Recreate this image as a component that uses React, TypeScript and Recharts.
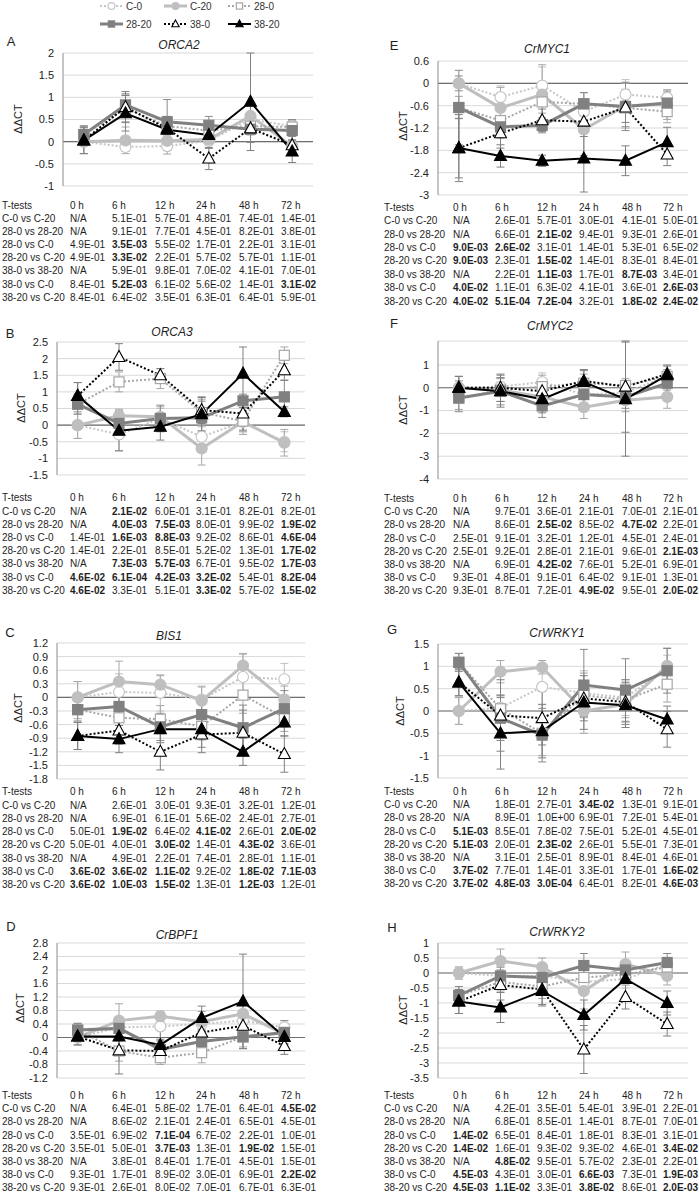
import React from "react";
import {
  LineChart,
  Line,
  XAxis,
  YAxis,
  CartesianGrid,
  ReferenceLine,
  ErrorBar,
} from "recharts";

const FONT = '"Liberation Sans", Arial, sans-serif';

const times = ["0 h", "6 h", "12 h", "24 h", "48 h", "72 h"];
const seriesNames = ["C-0", "C-20", "28-0", "28-20", "38-0", "38-20"];
const testNames = [
  "C-0 vs C-20",
  "28-0 vs 28-20",
  "28-0 vs C-0",
  "28-20 vs C-20",
  "38-0 vs 38-20",
  "38-0 vs C-0",
  "38-20 vs C-20",
];

// values: one row per series (C-0, C-20, 28-0, 28-20, 38-0, 38-20), one column per time
const orca2Values = [
  [0, -0.12, -0.1, 0.02, 0.5, 0.35],
  [0, 0.03, 0.02, 0.05, 0.58, -0.1],
  [0.16, 0.75, 0.35, 0.25, 0.35, 0.33],
  [0.16, 0.83, 0.45, 0.37, 0.28, 0.25],
  [0.03, 0.78, 0.3, -0.38, 0.3, -0.08],
  [0.03, 0.64, 0.27, 0.15, 0.9, -0.22],
];
const orca2Errors = [
  [0.05, 0.1, 0.1, 0.1, 0.15, 0.1],
  [0.05, 0.3, 0.3, 0.1, 0.25, 0.15],
  [0.15, 0.3, 0.2, 0.15, 0.2, 0.15],
  [0.2, 0.25, 0.5, 0.2, 0.3, 0.25],
  [0.3, 0.35, 0.2, 0.25, 0.3, 0.2],
  [0.3, 0.4, 0.3, 0.3, 1.1, 0.25],
];
const orca2Ticks = [-1, -0.5, 0, 0.5, 1, 1.5, 2];
const orca2P = [
  ["N/A", "5.1E-01", "5.7E-01", "4.8E-01", "7.4E-01", "1.4E-01"],
  ["N/A", "9.1E-01", "7.7E-01", "4.5E-01", "8.2E-01", "3.8E-01"],
  ["4.9E-01", "3.5E-03", "5.5E-02", "1.7E-01", "2.2E-01", "3.1E-01"],
  ["4.9E-01", "3.3E-02", "2.2E-01", "5.7E-02", "5.7E-01", "1.1E-01"],
  ["N/A", "5.9E-01", "9.8E-01", "7.0E-02", "4.1E-01", "7.0E-01"],
  ["8.4E-01", "5.2E-03", "6.1E-02", "5.6E-02", "1.4E-01", "3.1E-02"],
  ["8.4E-01", "6.4E-02", "3.5E-01", "6.3E-01", "6.4E-01", "5.9E-01"],
];

const orca3Values = [
  [0, -0.28, 0.2, -0.35, 0.1, -0.5],
  [0, 0.28, 0.25, -0.7, 0.1, -0.53],
  [0.63, 1.3, 1.4, 0.38, 0.12, 2.1],
  [0.63, 0.05, 0.2, 0.22, 0.73, 0.85],
  [0.88, 2.05, 1.5, 0.45, 0.35, 1.65],
  [0.88, -0.17, -0.05, 0.33, 1.55, 0.4],
];
const orca3Errors = [
  [0.4, 0.5, 0.3, 0.3, 0.3, 0.3],
  [0.4, 0.2, 0.3, 0.5, 0.3, 0.4],
  [0.3, 0.3, 0.3, 0.4, 0.4, 0.25],
  [0.3, 0.3, 0.4, 0.5, 0.2, 0.5],
  [0.4, 0.4, 0.2, 0.4, 0.5, 0.3],
  [0.4, 0.6, 0.4, 0.5, 0.8, 0.15],
];
const orca3Ticks = [-1.5, -1, -0.5, 0, 0.5, 1, 1.5, 2, 2.5];
const orca3P = [
  ["N/A", "2.1E-02", "6.0E-01", "3.1E-01", "8.2E-01", "8.2E-01"],
  ["N/A", "4.0E-03", "7.5E-03", "8.0E-01", "9.9E-02", "1.9E-02"],
  ["1.4E-01", "1.6E-03", "8.8E-03", "9.2E-02", "8.6E-01", "4.6E-04"],
  ["1.4E-01", "2.2E-01", "8.5E-01", "5.2E-02", "1.3E-01", "1.7E-02"],
  ["N/A", "7.3E-03", "5.7E-03", "6.7E-01", "9.5E-02", "1.7E-03"],
  ["4.6E-02", "6.1E-04", "4.2E-03", "3.2E-02", "5.4E-01", "8.2E-04"],
  ["4.6E-02", "3.3E-01", "5.1E-01", "3.3E-02", "5.7E-02", "1.5E-02"],
];

const bis1Values = [
  [0, 0.12, 0.1, -0.05, 0.45, 0.4],
  [0, 0.35, 0.28, -0.07, 0.7, -0.05],
  [-0.27, -0.45, -0.48, -0.64, 0.05, -0.45],
  [-0.27, -0.2, -0.65, -0.38, -0.67, -0.25],
  [-0.85, -0.73, -1.2, -0.82, -0.78, -1.25],
  [-0.85, -0.92, -0.7, -0.7, -1.2, -0.55],
];
const bis1Errors = [
  [0.35, 0.4, 0.4, 0.3, 0.5, 0.35],
  [0.35, 0.45, 0.2, 0.3, 0.27, 0.3],
  [0.2, 0.3, 0.3, 0.3, 0.4, 0.3],
  [0.25, 0.3, 0.3, 0.35, 0.5, 0.4],
  [0.3, 0.3, 0.4, 0.4, 0.5, 0.4],
  [0.3, 0.3, 0.3, 0.4, 0.3, 0.3],
];
const bis1Ticks = [-1.8, -1.5, -1.2, -0.9, -0.6, -0.3, 0, 0.3, 0.6, 0.9, 1.2];
const bis1P = [
  ["N/A", "2.6E-01", "3.0E-01", "9.3E-01", "3.2E-01", "1.2E-01"],
  ["N/A", "6.9E-01", "6.1E-01", "5.6E-02", "2.4E-01", "2.7E-01"],
  ["5.0E-01", "1.9E-02", "6.4E-02", "4.1E-02", "2.6E-01", "2.0E-02"],
  ["5.0E-01", "4.0E-01", "3.0E-02", "1.4E-01", "4.3E-02", "3.6E-01"],
  ["N/A", "4.9E-01", "2.2E-01", "7.4E-01", "2.8E-01", "1.1E-01"],
  ["3.6E-02", "3.6E-02", "1.1E-02", "9.2E-02", "1.8E-02", "7.1E-03"],
  ["3.6E-02", "1.0E-03", "1.5E-02", "1.3E-01", "1.2E-03", "1.2E-01"],
];

const bpf1Values = [
  [0, 0.3, 0.33, 0.4, 0.5, 0.3],
  [0, 0.5, 0.63, 0.47, 0.7, 0.1],
  [0.22, -0.4, -0.6, -0.45, 0.02, 0.12],
  [0.22, 0.27, -0.35, -0.12, 0.02, 0.15],
  [0.03, -0.38, -0.4, 0.15, 0.35, -0.25],
  [0.03, 0.03, -0.22, 0.58, 1.07, 0.02],
];
const bpf1Errors = [
  [0.1, 0.3, 0.4, 0.2, 0.3, 0.2],
  [0.1, 0.5, 0.15, 0.3, 0.4, 0.3],
  [0.2, 0.3, 0.2, 0.3, 0.3, 0.2],
  [0.2, 0.2, 0.3, 0.3, 0.35, 0.35],
  [0.25, 0.7, 0.3, 0.3, 0.3, 0.25],
  [0.25, 0.3, 0.5, 0.35, 1.4, 0.2],
];
const bpf1Ticks = [-1.2, -0.8, -0.4, 0, 0.4, 0.8, 1.2, 1.6, 2, 2.4, 2.8];
const bpf1P = [
  ["N/A", "6.4E-01", "5.8E-02", "1.7E-01", "6.4E-01", "4.5E-02"],
  ["N/A", "8.6E-02", "2.1E-01", "2.4E-01", "6.5E-01", "4.5E-01"],
  ["3.5E-01", "6.9E-02", "7.1E-04", "6.7E-02", "2.2E-01", "1.0E-01"],
  ["3.5E-01", "5.0E-01", "3.7E-03", "1.3E-01", "1.9E-02", "1.5E-01"],
  ["N/A", "3.8E-01", "8.4E-01", "1.7E-01", "4.5E-01", "1.5E-01"],
  ["9.3E-01", "1.7E-01", "8.9E-02", "3.0E-01", "6.9E-01", "2.2E-02"],
  ["9.3E-01", "2.6E-01", "8.0E-02", "7.0E-01", "6.7E-01", "6.3E-01"],
];

const myc1Values = [
  [0, -0.37, -0.06, -0.76, -0.3, -0.39],
  [0, -0.66, -0.3, -1.24, -0.6, -0.57],
  [-0.65, -1.0, -0.5, -0.55, -0.66, -0.76],
  [-0.65, -1.17, -1.13, -0.55, -0.62, -0.53],
  [-1.74, -1.34, -0.99, -1.03, -0.65, -1.91],
  [-1.74, -1.95, -2.08, -2.02, -2.08, -1.58],
];
const myc1Errors = [
  [0.2, 0.3, 0.5, 0.3, 0.4, 0.2],
  [0.2, 0.55, 0.8, 0.7, 0.6, 0.4],
  [0.3, 0.3, 0.3, 0.3, 0.5, 0.3],
  [1.0, 0.3, 0.2, 0.3, 0.65, 0.3],
  [0.8, 0.4, 0.3, 0.4, 0.4, 0.3],
  [0.9, 0.3, 0.15, 0.9, 0.4, 0.4],
];
const myc1Ticks = [-3, -2.4, -1.8, -1.2, -0.6, 0, 0.6];
const myc1P = [
  ["N/A", "2.6E-01", "5.7E-01", "3.0E-01", "4.1E-01", "5.0E-01"],
  ["N/A", "6.6E-01", "2.1E-02", "9.4E-01", "9.3E-01", "2.6E-01"],
  ["9.0E-03", "2.6E-02", "3.1E-01", "1.4E-01", "5.3E-01", "6.5E-02"],
  ["9.0E-03", "2.3E-01", "1.5E-02", "1.4E-01", "8.3E-01", "8.4E-01"],
  ["N/A", "2.2E-01", "1.1E-03", "1.7E-01", "8.7E-03", "3.4E-01"],
  ["4.0E-02", "1.1E-01", "6.3E-02", "4.1E-01", "3.6E-01", "2.6E-03"],
  ["4.0E-02", "5.1E-04", "7.2E-04", "3.2E-01", "1.8E-02", "2.4E-02"],
];

const myc2Values = [
  [0, 0.05, 0.25, -0.3, -0.2, 0.5],
  [0, -0.1, -0.4, -0.85, -0.55, -0.4],
  [-0.45, -0.1, 0.05, 0.2, 0.1, 0.5],
  [-0.45, -0.15, -0.8, -0.3, -0.4, 0.2],
  [0, 0, -0.15, 0.3, 0.05, 0.6],
  [0, -0.15, -0.5, 0.25, -0.5, 0.55],
];
const myc2Errors = [
  [0.3, 0.4, 0.4, 0.4, 0.4, 0.3],
  [0.3, 0.5, 0.5, 0.5, 0.5, 0.5],
  [0.5, 0.5, 0.5, 0.4, 0.3, 0.3],
  [0.6, 0.6, 0.5, 0.6, 0.5, 0.3],
  [0.5, 0.6, 0.5, 0.5, 2.0, 0.4],
  [0.5, 0.7, 0.6, 0.5, 2.5, 0.4],
];
const myc2Ticks = [-4, -3, -2, -1, 0, 1];
const myc2P = [
  ["N/A", "9.7E-01", "3.6E-01", "2.1E-01", "7.0E-01", "2.1E-01"],
  ["N/A", "8.6E-01", "2.5E-02", "8.5E-02", "4.7E-02", "2.2E-01"],
  ["2.5E-01", "9.1E-01", "3.2E-01", "1.2E-01", "4.5E-01", "2.4E-01"],
  ["2.5E-01", "9.2E-01", "2.8E-01", "2.1E-01", "9.6E-01", "2.1E-03"],
  ["N/A", "6.9E-01", "4.2E-02", "7.6E-01", "5.2E-01", "6.9E-01"],
  ["9.3E-01", "4.8E-01", "9.1E-01", "6.4E-02", "9.1E-01", "1.3E-01"],
  ["9.3E-01", "8.7E-01", "7.2E-01", "4.9E-02", "9.5E-01", "2.0E-02"],
];

const wrky1Values = [
  [0, 0.07, 0.54, 0.4, 0.3, 0.95],
  [0, 0.88, 0.98, 0, 0.15, 1.01],
  [1.09, 0.05, -0.5, 0.35, 0.25, 0.6],
  [1.09, -0.16, -0.54, 0.58, 0.47, 0.9],
  [0.64, -0.1, -0.16, 0.28, 0.2, -0.41],
  [0.64, -0.5, -0.45, 0.19, 0.13, -0.19],
];
const wrky1Errors = [
  [0.3, 0.3, 0.4, 0.5, 0.4, 0.3],
  [0.3, 0.25, 0.15, 0.5, 0.4, 0.4],
  [0.2, 0.3, 0.5, 0.5, 0.4, 0.4],
  [0.2, 0.5, 0.6, 0.8, 0.7, 0.5],
  [0.3, 0.8, 0.6, 0.4, 0.5, 0.4],
  [0.3, 0.8, 0.6, 0.6, 0.5, 0.3],
];
const wrky1Ticks = [-1.5, -1, -0.5, 0, 0.5, 1, 1.5];
const wrky1P = [
  ["N/A", "1.8E-01", "2.7E-01", "3.4E-02", "1.3E-01", "9.1E-01"],
  ["N/A", "8.9E-01", "1.0E+00", "6.9E-01", "7.2E-01", "5.4E-01"],
  ["5.1E-03", "8.5E-01", "7.8E-02", "7.5E-01", "5.2E-01", "4.5E-01"],
  ["5.1E-03", "2.0E-01", "2.3E-02", "2.6E-01", "5.5E-01", "7.3E-01"],
  ["N/A", "3.1E-01", "2.5E-01", "8.9E-01", "8.4E-01", "4.6E-01"],
  ["3.7E-02", "7.7E-01", "1.4E-01", "3.3E-01", "1.7E-01", "1.6E-02"],
  ["3.7E-02", "4.8E-03", "3.0E-04", "6.4E-01", "8.2E-01", "4.6E-03"],
];

const wrky2Values = [
  [0, -0.1, -0.1, -0.3, -0.2, 0.3],
  [0, 0.4, 0.2, -0.6, 0.3, -0.1],
  [-0.75, -0.3, -0.45, -0.15, -0.05, 0.2],
  [-0.75, -0.1, -0.15, 0.25, 0.1, 0.35],
  [-0.95, -0.4, -0.55, -2.55, -0.8, -1.7],
  [-0.95, -1.15, -0.6, -1.4, -0.2, -1.0],
];
const wrky2Errors = [
  [0.2, 0.3, 0.3, 0.4, 0.3, 0.2],
  [0.2, 0.4, 0.3, 0.6, 0.4, 0.3],
  [0.3, 0.3, 0.4, 0.4, 0.3, 0.3],
  [0.3, 0.3, 0.4, 0.4, 0.3, 0.3],
  [0.4, 0.5, 0.5, 0.8, 0.4, 0.4],
  [0.4, 0.5, 0.5, 0.5, 0.6, 0.4],
];
const wrky2Ticks = [-3.5, -3, -2.5, -2, -1.5, -1, -0.5, 0, 0.5, 1];
const wrky2P = [
  ["N/A", "4.2E-01", "3.5E-01", "5.4E-01", "3.9E-01", "2.2E-01"],
  ["N/A", "6.8E-01", "8.5E-01", "1.4E-01", "8.7E-01", "7.0E-01"],
  ["1.4E-02", "6.5E-01", "8.4E-01", "1.8E-01", "8.3E-01", "3.1E-01"],
  ["1.4E-02", "1.6E-01", "9.3E-02", "9.3E-02", "4.6E-01", "3.4E-02"],
  ["N/A", "4.8E-02", "9.5E-01", "5.7E-02", "2.3E-01", "2.2E-01"],
  ["4.5E-03", "4.3E-01", "3.0E-01", "6.6E-03", "7.3E-01", "1.9E-03"],
  ["4.5E-03", "1.1E-02", "3.3E-01", "3.8E-02", "8.6E-01", "2.0E-03"],
];

type Shape = "circle" | "square" | "triangle";
type SeriesStyle = {
  key: string;
  color: string;
  width: number;
  dash?: string;
  shape: Shape;
  filled: boolean;
  err: string;
};

const seriesStyles: SeriesStyle[] = [
  { key: "c0", color: "#c6c6c6", width: 2, dash: "2 2", shape: "circle", filled: false, err: "#c0c0c0" },
  { key: "c20", color: "#bfbfbf", width: 3, shape: "circle", filled: true, err: "#a8a8a8" },
  { key: "t0", color: "#a6a6a6", width: 2, dash: "2 2", shape: "square", filled: false, err: "#a6a6a6" },
  { key: "t20", color: "#808080", width: 3, shape: "square", filled: true, err: "#8a8a8a" },
  { key: "h0", color: "#000000", width: 2, dash: "2 2", shape: "triangle", filled: false, err: "#808080" },
  { key: "h20", color: "#000000", width: 2, shape: "triangle", filled: true, err: "#808080" },
];

const leftCols = [2, 70, 112, 155, 196, 239, 281];
const rightCols = [384, 453, 495, 537, 579, 622, 663];

const panels = [
  { id: "A", gene: "ORCA2", values: orca2Values, errors: orca2Errors, ticks: orca2Ticks, pvals: orca2P,
    plot: { x: 63, y: 53, w: 250, h: 133 }, title: [179, 45], letter: [11, 41], yLab: [18, 119], table: [205.7, 13.15], cols: leftCols },
  { id: "B", gene: "ORCA3", values: orca3Values, errors: orca3Errors, ticks: orca3Ticks, pvals: orca3P,
    plot: { x: 57, y: 342, w: 248, h: 133 }, title: [172, 332], letter: [10, 333], yLab: [21, 408], table: [498.3, 13.2], cols: leftCols },
  { id: "C", gene: "BIS1", values: bis1Values, errors: bis1Errors, ticks: bis1Ticks, pvals: bis1P,
    plot: { x: 57, y: 643, w: 248, h: 136 }, title: [169, 636], letter: [10, 632], yLab: [18, 708], table: [792.3, 13.25], cols: leftCols },
  { id: "D", gene: "CrBPF1", values: bpf1Values, errors: bpf1Errors, ticks: bpf1Ticks, pvals: bpf1P,
    plot: { x: 57, y: 943, w: 248, h: 135 }, title: [177, 935], letter: [11, 926], yLab: [20, 1008], table: [1096, 13.2], cols: leftCols },
  { id: "E", gene: "CrMYC1", values: myc1Values, errors: myc1Errors, ticks: myc1Ticks, pvals: myc1P,
    plot: { x: 438, y: 61, w: 250, h: 134 }, title: [547, 49], letter: [394, 45], yLab: [403, 126], table: [207.7, 13.4], cols: rightCols },
  { id: "F", gene: "CrMYC2", values: myc2Values, errors: myc2Errors, ticks: myc2Ticks, pvals: myc2P,
    plot: { x: 438, y: 341, w: 250, h: 138 }, title: [550, 326], letter: [394, 323], yLab: [403, 410], table: [499, 13.2], cols: rightCols },
  { id: "G", gene: "CrWRKY1", values: wrky1Values, errors: wrky1Errors, ticks: wrky1Ticks, pvals: wrky1P,
    plot: { x: 438, y: 644, w: 250, h: 134 }, title: [557, 633], letter: [392, 629], yLab: [400, 711], table: [792, 13.2], cols: rightCols },
  { id: "H", gene: "CrWRKY2", values: wrky2Values, errors: wrky2Errors, ticks: wrky2Ticks, pvals: wrky2P,
    plot: { x: 438, y: 943, w: 250, h: 135 }, title: [557, 932], letter: [392, 927], yLab: [403, 1010], table: [1096, 13.2], cols: rightCols },
];

function Marker({ st, cx, cy, k = 1 }: { st: SeriesStyle; cx: number; cy: number; k?: number }) {
  const fill = st.filled ? st.color : "#ffffff";
  if (st.shape === "circle")
    return <circle cx={cx} cy={cy} r={5.5 * k} fill={fill} stroke={st.color} strokeWidth={1.2} />;
  if (st.shape === "square")
    return <rect x={cx - 5 * k} y={cy - 5 * k} width={10 * k} height={10 * k} fill={fill} stroke={st.color} strokeWidth={1.2} />;
  return (
    <polygon
      points={`${cx},${cy - 6.5 * k} ${cx + 6 * k},${cy + 4.5 * k} ${cx - 6 * k},${cy + 4.5 * k}`}
      fill={fill}
      stroke={st.color}
      strokeWidth={1.1}
    />
  );
}

const makeDot = (st: SeriesStyle) => (p: any) => {
  const { cx, cy, index } = p;
  if (cx == null || cy == null) return <g key={`${st.key}-${index}`} />;
  return (
    <g key={`${st.key}-${index}`}>
      <Marker st={st} cx={cx} cy={cy} />
    </g>
  );
};

const centered = (x: number, y: number): React.CSSProperties => ({
  position: "absolute",
  left: x,
  top: y,
  transform: "translate(-50%, -50%)",
  whiteSpace: "nowrap",
});

function Panel({ cfg }: { cfg: (typeof panels)[number] }) {
  const data = times.map((t, i) => {
    const row: any = { t };
    seriesStyles.forEach((st, s) => {
      row[st.key] = cfg.values[s][i];
      row[st.key + "_e"] = cfg.errors[s][i];
    });
    return row;
  });
  const yw = 50;
  const mt = 8;
  const mb = 8;
  const mr = 6;
  const { x, y, w, h } = cfg.plot;
  const min = cfg.ticks[0];
  const max = cfg.ticks[cfg.ticks.length - 1];
  const [tableY, step] = cfg.table;
  const rows = [["T-tests", ...times], ...testNames.map((n, r) => [n, ...cfg.pvals[r]])];

  return (
    <>
      <div style={{ ...centered(cfg.letter[0], cfg.letter[1]), fontSize: 13 }}>{cfg.id}</div>
      <div style={{ ...centered(cfg.title[0], cfg.title[1]), fontSize: 12, fontStyle: "italic" }}>{cfg.gene}</div>
      <div style={{ ...centered(cfg.yLab[0], cfg.yLab[1]), fontSize: 11, transform: "translate(-50%, -50%) rotate(-90deg)" }}>
        ΔΔCT
      </div>
      <div style={{ position: "absolute", left: x - yw, top: y - mt }}>
        <LineChart
          width={yw + w + mr}
          height={mt + h + mb}
          data={data}
          margin={{ top: mt, right: mr, bottom: mb, left: 0 }}
          style={{ overflow: "visible" }}
        >
          <CartesianGrid vertical={false} stroke="#d9d9d9" />
          <XAxis dataKey="t" hide padding={{ left: w / 12, right: w / 12 }} />
          <YAxis
            type="number"
            domain={[min, max]}
            ticks={cfg.ticks}
            interval={0}
            width={yw}
            tickLine={false}
            tickMargin={3}
            axisLine={{ stroke: "#8c8c8c" }}
            tick={{ fontSize: 11, fill: "#222", fontFamily: FONT }}
          />
          <ReferenceLine y={0} stroke="#6e6e6e" strokeWidth={1.2} />
          {seriesStyles.map((st, s) => (
            <Line
              key={st.key}
              type="linear"
              dataKey={st.key}
              name={seriesNames[s]}
              stroke={st.color}
              strokeWidth={st.width}
              strokeDasharray={st.dash}
              dot={makeDot(st)}
              activeDot={false}
              isAnimationActive={false}
            >
              <ErrorBar dataKey={st.key + "_e"} width={4} stroke={st.err} strokeWidth={1} direction="y" />
            </Line>
          ))}
        </LineChart>
      </div>
      {rows.map((row, r) =>
        row.map((cell, c) => {
          const bold = r > 0 && c > 0 && cell !== "N/A" && parseFloat(cell) < 0.05;
          return (
            <div
              key={`${cfg.id}-${r}-${c}`}
              style={{
                position: "absolute",
                left: cfg.cols[c],
                top: tableY + r * step - 6,
                fontSize: 10,
                lineHeight: "12px",
                fontWeight: bold ? 700 : 400,
                whiteSpace: "nowrap",
                color: "#1e1e1e",
              }}
            >
              {cell}
            </div>
          );
        })
      )}
    </>
  );
}

// legend placement: [lineStartX, rowY]
const legendPos = [
  [100, 6],
  [164, 6],
  [228, 6],
  [100, 24],
  [164, 24],
  [228, 24],
];

function Legend() {
  return (
    <svg width={699} height={34} style={{ position: "absolute", left: 0, top: 0 }}>
      {seriesStyles.map((st, s) => {
        const [lx, ly] = legendPos[s];
        return (
          <g key={st.key}>
            <line x1={lx} x2={lx + 23} y1={ly} y2={ly} stroke={st.color} strokeWidth={st.width} strokeDasharray={st.dash} />
            <Marker st={st} cx={lx + 11.5} cy={ly} k={0.62} />
            <text x={lx + 26} y={ly + 3.5} fontSize={10} fontFamily={FONT} fill="#333">
              {seriesNames[s]}
            </text>
          </g>
        );
      })}
    </svg>
  );
}

export default function App() {
  return (
    <div
      style={{
        position: "absolute",
        left: 0,
        top: 0,
        width: 699,
        height: 1194,
        background: "#ffffff",
        fontFamily: FONT,
        color: "#1e1e1e",
        overflow: "hidden",
      }}
    >
      <Legend />
      {panels.map((p) => (
        <Panel key={p.id} cfg={p} />
      ))}
    </div>
  );
}
